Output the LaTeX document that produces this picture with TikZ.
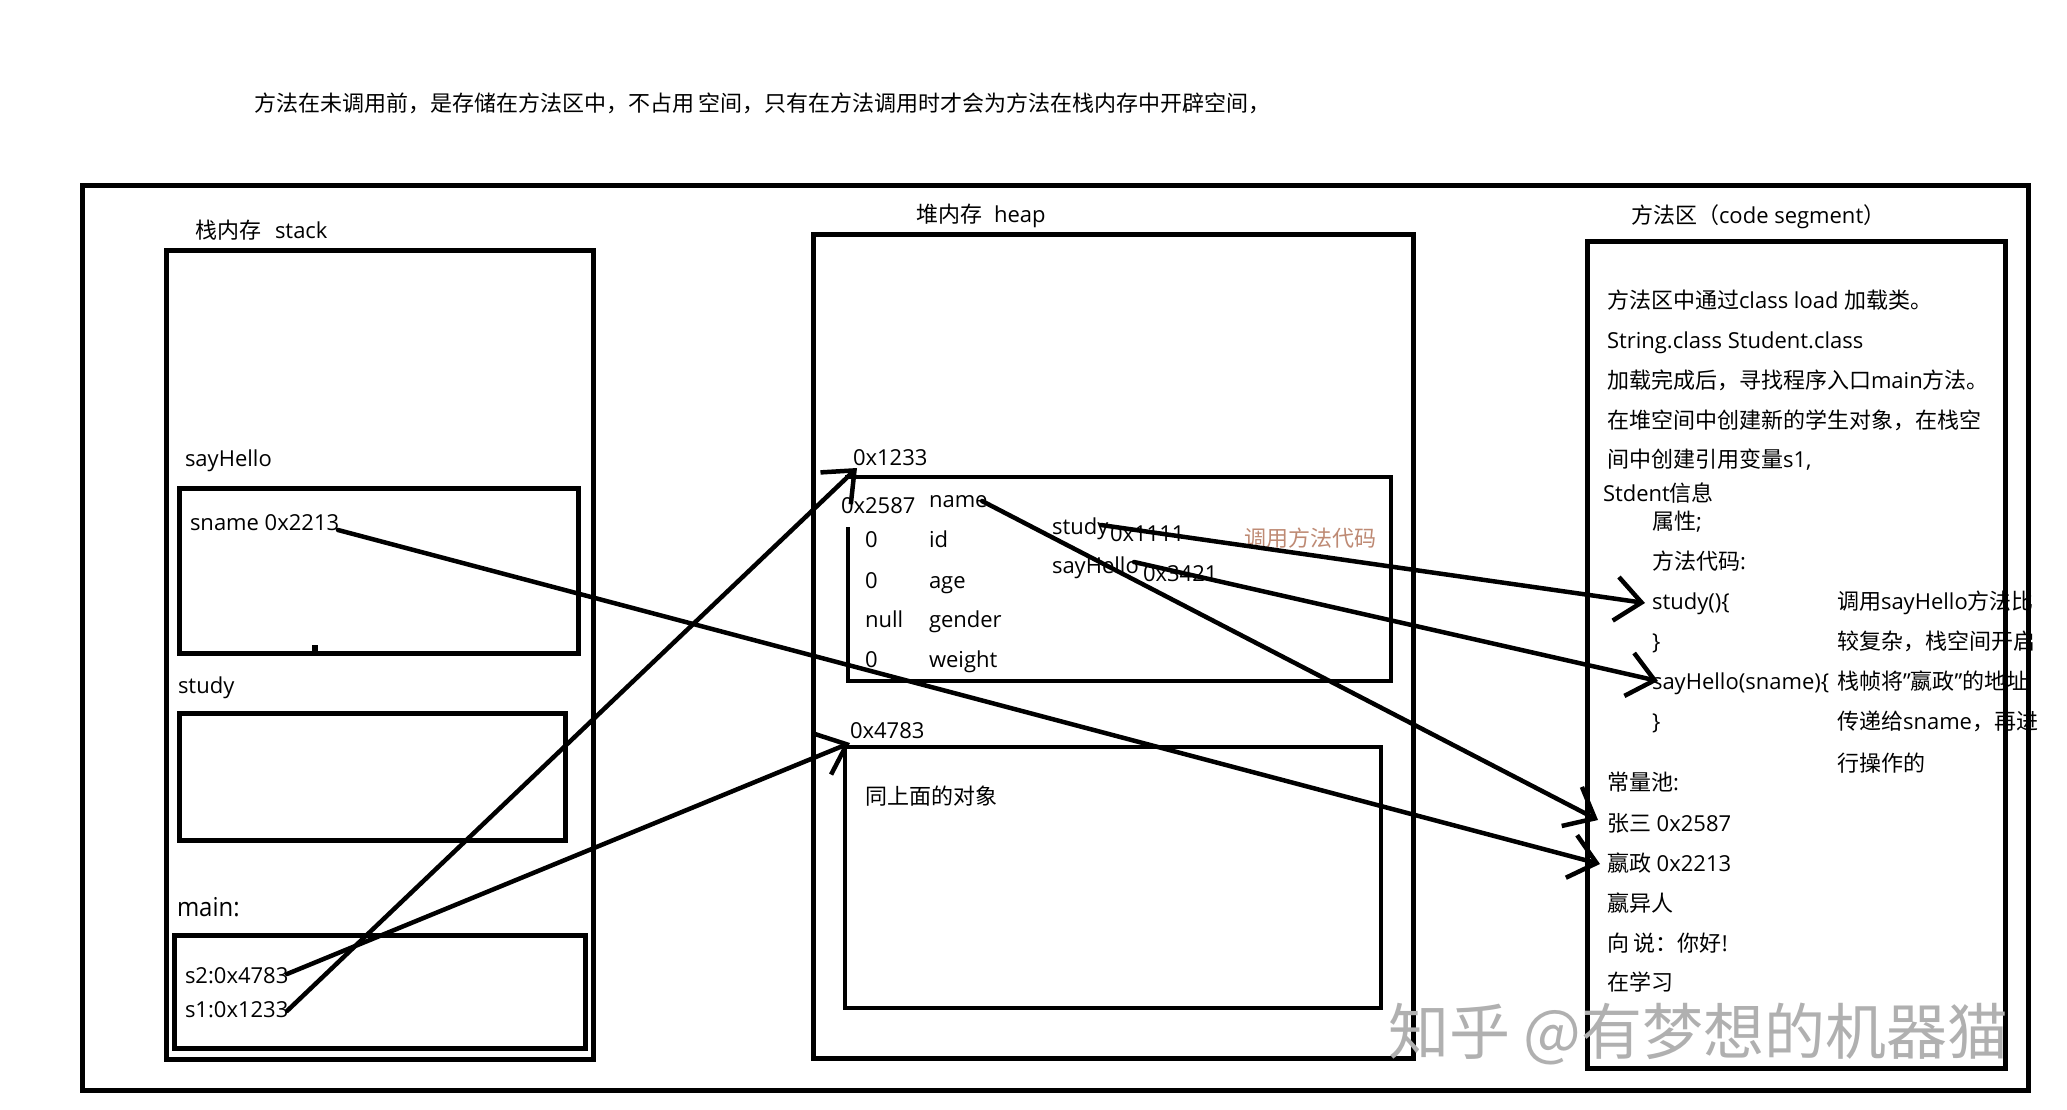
\documentclass[tikz,border=0pt]{standalone}
\usepackage{fontspec}
\setmainfont{Open Sans}
\newfontfamily\cjkf{Noto Sans CJK SC}
\newcommand\zhs[1]{{\cjkf #1}}
\newcommand\fsz[1]{\fontsize{#1}{#1}\selectfont}
\newcommand\sq{\symbol{"22}}
\usetikzlibrary{arrows.meta}
\definecolor{memo}{RGB}{190,138,116}
\definecolor{wmark}{RGB}{176,176,176}
\begin{document}
\begin{tikzpicture}[x=1pt,y=-1pt,
  frame/.style={line width=5pt,draw=black,line join=miter},
  objbox/.style={line width=4.5pt,draw=black},
  ptr/.style={line width=4.5pt,line cap=round,-{Straight Barb[length=26pt,width=44pt]}},
  lbl/.style={anchor=base west,inner sep=0pt,outer sep=0pt,font=\fsz{22}},
  zlbl/.style={lbl,font=\fsz{22}\cjkf}]
\useasboundingbox (0,0) rectangle (2067,1110);
\fill[white] (0,0) rectangle (2067,1110);

% ---------- top caption
\node[lbl,font=\fsz{22}\cjkf] (cap) at (254,112) {方法在未调用前，是存储在方法区中，不占用 空间，只有在方法调用时才会为方法在栈内存中开辟空间，};

% ---------- stack texts
\node[lbl] (stklbl) at (195,239) {\zhs{栈内存}\hspace{14pt}stack};
\node[lbl] (shlbl) at (185,466) {sayHello};
\node[lbl] (sname) at (190,530) {sname 0x2213};
\node[lbl] (studylbl) at (178,693) {study};
\node[lbl,font=\fsz{26}] (mainlbl) at (177,916) {\addfontfeatures{FakeStretch=0.92}main:};
\node[lbl] (s2) at (185,983) {s2:0x4783};
\node[lbl] (s1) at (185,1017) {s1:0x1233};

% ---------- heap texts
\node[lbl] (heaplbl) at (916,223) {\zhs{堆内存}\hspace{12pt}heap};
\node[lbl] (a1233) at (853,465) {0x1233};
\node[lbl] (a2587) at (841,513) {0x2587};
\node[lbl] (fname) at (929,507) {name};
\node[lbl] (v1) at (865,547) {0};
\node[lbl] (fid) at (929,547) {id};
\node[lbl] (v2) at (865,588) {0};
\node[lbl] (fage) at (929,588) {age};
\node[lbl] (v3) at (865,627) {null};
\node[lbl] (fgender) at (929,627) {gender};
\node[lbl] (v4) at (865,667) {0};
\node[lbl] (fweight) at (929,667) {weight};
\node[lbl] (mstudy) at (1052,534) {study};
\node[lbl] (a1111) at (1110,541) {0x1111};
\node[lbl] (msay) at (1052,573) {sayHello};
\node[lbl] (a3421) at (1143,581) {0x3421};
\node[zlbl,text=memo] (memo) at (1244,546) {调用方法代码};
\node[lbl] (a4783) at (850,738) {0x4783};
\node[zlbl] (same) at (865,804) {同上面的对象};

% ---------- method area texts
\node[lbl] (mlbl) at (1631,224) {\zhs{方法区（}code segment\zhs{）}};
\node[lbl] (m1) at (1607,308) {\zhs{方法区中通过}class load \zhs{加载类。}};
\node[lbl] (m2) at (1607,348) {String.class Student.class};
\node[lbl] (m3) at (1607,388) {\zhs{加载完成后，寻找程序入口}main\zhs{方法。}};
\node[zlbl] (m4) at (1607,428) {在堆空间中创建新的学生对象，在栈空};
\node[lbl] (m5) at (1607,467) {\zhs{间中创建引用变量}s1,};
\node[lbl] (m6) at (1603,501) {Stdent\zhs{信息}};
\node[lbl] (m7) at (1652,529) {\zhs{属性};};
\node[lbl] (m8) at (1652,569) {\zhs{方法代码}:};
\node[lbl] (cstudy) at (1652,609) {study()\{};
\node[lbl] (m10) at (1652,649) {\}};
\node[lbl] (csay) at (1652,689) {sayHello(sname)\{};
\node[lbl] (m12) at (1652,729) {\}};
\node[lbl] (r1) at (1837,609) {\zhs{调用}sayHello\zhs{方法比}};
\node[zlbl] (r2) at (1837,649) {较复杂，栈空间开启};
\node[lbl] (r3) at (1837,689) {\zhs{栈帧将}\sq\zhs{嬴政}\sq\zhs{的地址}};
\node[lbl] (r4) at (1837,729) {\zhs{传递给}sname\zhs{，再进}};
\node[zlbl] (r5) at (1837,771) {行操作的};
\node[lbl] (p0) at (1607,790) {\zhs{常量池}:};
\node[lbl] (p1) at (1607,831) {\zhs{张三} 0x2587};
\node[lbl] (p2) at (1607,871) {\zhs{嬴政} 0x2213};
\node[zlbl] (p3) at (1607,911) {嬴异人};
\node[lbl] (p4) at (1607,951) {\zhs{向 说：你好}!};
\node[zlbl] (p5) at (1607,990) {在学习};

% ---------- frames
\draw[frame] (82,186) rectangle (2028,1090);
\draw[frame] (166,251) rectangle (593,1059);
\draw[frame] (179,488) rectangle (578,653);
\fill (312,645) rectangle (318,651);
\draw[frame] (179,713) rectangle (565,840);
\draw[frame] (174,935) rectangle (585,1048);
\draw[frame] (813,235) rectangle (1413,1058);
\draw[objbox] (848,527) -- (848,681) -- (1391,681) -- (1391,477) -- (845,477);
\draw[objbox] (845,747) rectangle (1381,1008);
\draw[frame] (1587,242) rectangle (2005,1068);

% ---------- pointers
\coordinate (s1start) at (287,1011);
\coordinate (s1tip) at (857,468);
\coordinate (s2start) at (287,974);
\coordinate (s2tip) at (850,743);
\coordinate (snstart) at (338,530);
\coordinate (sntip) at (1600,864);
\coordinate (nmstart) at (982,501);
\coordinate (nmtip) at (1598,820);
\coordinate (ststart) at (1101,525);
\coordinate (sttip) at (1645,603);
\coordinate (shstart) at (1134,562);
\coordinate (shtip) at (1658,681);
\draw[ptr] (s1start) -- (s1tip);
\draw[ptr] (s2start) -- (s2tip);
\draw[ptr] (snstart) -- (sntip);
\draw[ptr] (nmstart) -- (nmtip);
\draw[ptr] (ststart) -- (sttip);
\draw[ptr] (shstart) -- (shtip);

% ---------- watermark
\node[lbl,font=\fsz{61}\cjkf,text=wmark] (wm) at (1388,1054) {知乎 @有梦想的机器猫};
\end{tikzpicture}
\end{document}
